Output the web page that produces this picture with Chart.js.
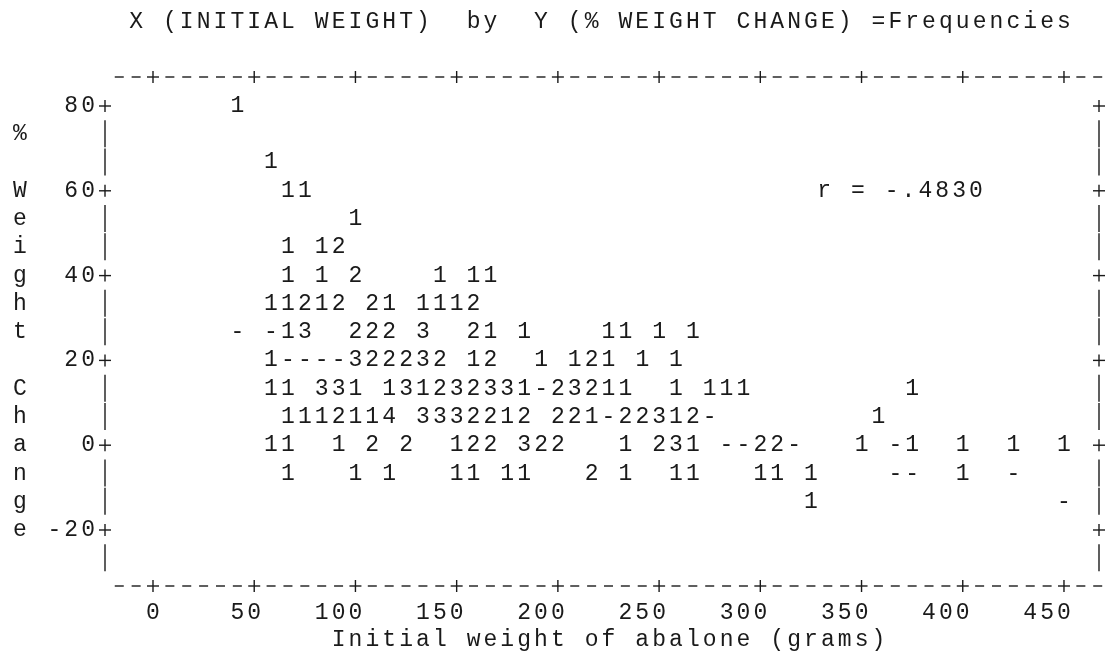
<!DOCTYPE html>
<html>
<head>
<meta charset="utf-8">
<script src="https://cdn.jsdelivr.net/npm/chart.js@4.4.1/dist/chart.umd.min.js"></script>
<style>
  html, body { margin: 0; background: #fff; }
</style>
</head>
<body>
<canvas id="plot" width="1109" height="659"></canvas>
<script>
// axis ticks and texts
const xTicks = [0, 50, 100, 150, 200, 250, 300, 350, 400, 450];
const yTicks = [80, 60, 40, 20, 0, -20];
const titleText = 'X (INITIAL WEIGHT)  by  Y (% WEIGHT CHANGE) =Frequencies';
const xTitle = 'Initial weight of abalone (grams)';
const yTitle = '% Weight Change';
const rText = 'r = -.4830';

// one printer row per % change level, weights in grams, one frequency symbol per weight
const changeRows = [80, 66.7, 60, 53.3, 46.7, 40, 33.3, 26.7, 20, 13.3, 6.7, 0, -6.7, -13.3];
const weightRows = [
  [41.7],
  [58.3],
  [66.7, 75],
  [100],
  [66.7, 83.3, 91.7],
  [66.7, 83.3, 100, 141.7, 158.3, 166.7],
  [58.3, 66.7, 75, 83.3, 91.7, 108.3, 116.7, 133.3, 141.7, 150, 158.3],
  [41.7, 58.3, 66.7, 75, 100, 108.3, 116.7, 133.3, 158.3, 166.7, 183.3, 225, 233.3, 250, 266.7],
  [58.3, 66.7, 75, 83.3, 91.7, 100, 108.3, 116.7, 125, 133.3, 141.7, 158.3, 166.7, 191.7, 208.3, 216.7, 225, 241.7, 258.3],
  [58.3, 66.7, 83.3, 91.7, 100, 116.7, 125, 133.3, 141.7, 150, 158.3, 166.7, 175, 183.3, 191.7, 200, 208.3, 216.7, 225, 233.3, 258.3, 275, 283.3, 291.7, 375],
  [66.7, 75, 83.3, 91.7, 100, 108.3, 116.7, 133.3, 141.7, 150, 158.3, 166.7, 175, 183.3, 200, 208.3, 216.7, 225, 233.3, 241.7, 250, 258.3, 266.7, 275, 358.3],
  [58.3, 66.7, 91.7, 108.3, 125, 150, 158.3, 166.7, 183.3, 191.7, 200, 233.3, 250, 258.3, 266.7, 283.3, 291.7, 300, 308.3, 316.7, 350, 366.7, 375, 400, 425, 450],
  [66.7, 100, 116.7, 150, 158.3, 175, 183.3, 216.7, 233.3, 258.3, 266.7, 300, 308.3, 325, 366.7, 375, 400, 425],
  [325, 450]
];
const freqRows = [
  '1',
  '1',
  '11',
  '1',
  '112',
  '112111',
  '11212211112',
  '--1322232111111',
  '1----32223212112111',
  '11331131232331-2321111111',
  '11121143332212221-22312-1',
  '111221223221231--22-1-1111',
  '11111112111111--1-',
  '1-'
];

const FONT = '23px "Liberation Mono", monospace';
const INK = '#1a1a1a';

const points = [];
changeRows.forEach((c, i) => {
  weightRows[i].forEach((w, j) => points.push({ x: w, y: c, s: freqRows[i][j] }));
});

const printerPlot = {
  id: 'printerPlot',
  afterDatasetsDraw(chart) {
    const { ctx, chartArea: a, scales: { x, y } } = chart;
    const pitch = x.getPixelForValue(50 / 6) - x.getPixelForValue(0);
    const rowH = y.getPixelForValue(0) - y.getPixelForValue(20 / 3);
    ctx.save();
    ctx.font = FONT;
    ctx.fillStyle = INK;
    ctx.strokeStyle = INK;
    ctx.textAlign = 'center';
    ctx.textBaseline = 'middle';
    const put = (str, cx, cy) => {
      for (let i = 0; i < str.length; i++) ctx.fillText(str[i], cx + i * pitch, cy);
    };
    const line = (x1, y1, x2, y2) => {
      ctx.beginPath(); ctx.moveTo(x1, y1); ctx.lineTo(x2, y2); ctx.stroke();
    };
    const plus = (cx, cy) => {
      line(cx - 6, cy, cx + 6, cy);
      line(cx, cy - 6, cx, cy + 6);
    };
    ctx.lineWidth = 1.4;

    // horizontal frame: dashes with + at every x tick column
    for (let col = -2; col <= 56; col++) {
      const px = x.getPixelForValue(col * 50 / 6);
      [a.top, a.bottom].forEach(py => {
        if (col % 6 === 0) plus(px, py);
        else line(px - 4.5, py, px + 4.5, py);
      });
    }
    // vertical frame: | in plain rows, + on tick rows
    for (let k = 0; k <= 16; k++) {
      const py = y.getPixelForValue(80 - k * 20 / 3);
      [a.left, a.right].forEach(px => {
        if (k % 3 === 0 && k <= 15) plus(px, py);
        else line(px, py - 14, px, py + 13);
      });
    }

    // y tick labels, right aligned against the +
    yTicks.forEach(v => {
      const s = String(v);
      put(s, a.left - s.length * pitch, y.getPixelForValue(v));
    });
    // x tick labels, last digit under the +
    xTicks.forEach(v => {
      const s = String(v);
      put(s, x.getPixelForValue(v) - (s.length - 1) * pitch, a.bottom + rowH * 0.95);
    });
    // titles
    put(titleText, x.getPixelForValue(0) - pitch, 22);
    const xMid = (x.getPixelForValue(xTicks[0]) + x.getPixelForValue(xTicks[xTicks.length - 1])) / 2;
    put(xTitle, xMid - (xTitle.length - 1) * pitch / 2, a.bottom + rowH * 1.9);
    for (let i = 0; i < yTitle.length; i++) {
      ctx.fillText(yTitle[i], 20, y.getPixelForValue(80 - (i + 1) * 20 / 3));
    }
    put(rText, x.getPixelForValue(331.5), y.getPixelForValue(60));

    // frequency symbols at each point
    const meta = chart.getDatasetMeta(0);
    meta.data.forEach((el, i) => {
      ctx.fillText(chart.data.datasets[0].data[i].s, el.x, el.y);
    });
    ctx.restore();
  }
};

new Chart(document.getElementById('plot'), {
  type: 'scatter',
  data: {
    datasets: [{
      data: points,
      pointRadius: 0,
      pointHoverRadius: 0,
      borderColor: 'transparent',
      backgroundColor: 'transparent'
    }]
  },
  options: {
    responsive: false,
    animation: false,
    devicePixelRatio: 1,
    layout: { padding: { left: 105, right: 10, top: 77, bottom: 73 } },
    plugins: {
      legend: { display: false },
      tooltip: { enabled: false }
    },
    scales: {
      x: { type: 'linear', display: false, min: -23.71, max: 467.3 },
      y: { type: 'linear', display: false, min: -33.21, max: 86.84 }
    }
  },
  plugins: [printerPlot]
});
</script>
</body>
</html>
